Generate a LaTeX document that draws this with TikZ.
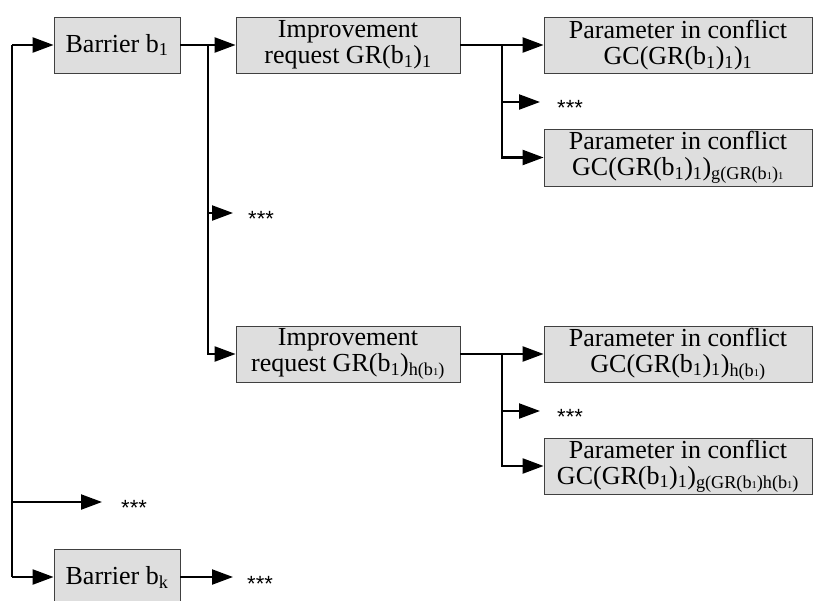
\documentclass[tikz,border=0pt]{standalone}
\usepackage{fontspec}
\setmainfont{Liberation Serif}
\newfontfamily\starfont{Liberation Sans}
\usetikzlibrary{arrows.meta,calc}
\newcommand{\tn}[1]{{\fontsize{10.5}{10.5}\selectfont #1}}
\tikzset{
  box/.style={draw=black!75, line width=0.8pt, fill=black!13, inner sep=0pt,
    align=center, font=\fontsize{26}{26}\selectfont},
  bbox/.style={box, minimum width=126pt, minimum height=56pt},
  gbox/.style={box, minimum width=224pt, minimum height=56pt},
  pbox/.style={box, minimum width=268pt, minimum height=56pt},
  conn/.style={line width=2.2pt, black},
  arr/.style={conn, -{Triangle[length=21pt,width=15pt]}},
  stars/.style={anchor=base west, inner sep=0pt, font=\starfont\fontsize{22}{22}\selectfont},
}
\begin{document}
\begin{tikzpicture}[x=1pt,y=-1pt]
\useasboundingbox (0,0) rectangle (814,600);
% boxes
\node[bbox] (b1) at (117,45) {Barrier b\textsubscript{1}};
\node[gbox] (gr1) at (348,45) {Improvement\\request GR(b\textsubscript{1})\textsubscript{1}};
\node[pbox] (gc11) at (678,45) {Parameter in conflict\\GC(GR(b\textsubscript{1})\textsubscript{1})\textsubscript{1}};
\node[pbox, minimum height=57pt] (gc1g) at (678,157.5) {Parameter in conflict\\GC(GR(b\textsubscript{1})\textsubscript{1})\textsubscript{g(GR(b\tn{1})\tn{1}}};
\node[gbox] (grh) at (348,354) {Improvement\\request GR(b\textsubscript{1})\textsubscript{h(b\tn{1})}};
\node[pbox] (gch1) at (678,354) {Parameter in conflict\\GC(GR(b\textsubscript{1})\textsubscript{1})\textsubscript{h(b\tn{1})}};
\node[pbox] (gchg) at (678,466) {Parameter in conflict\\GC(GR(b\textsubscript{1})\textsubscript{1})\textsubscript{g(GR(b\tn{1})h(b\tn{1})}};
\node[bbox] (bk) at (117,577) {Barrier b\textsubscript{k}};
% star labels
\node[stars] (s1) at (557,115) {***};
\node[stars] (s2) at (248,226) {***};
\node[stars] (s3) at (557,424) {***};
\node[stars] (s4) at (121,515) {***};
\node[stars] (s5) at (247,591) {***};
% helper coordinates
\coordinate (lt) at (12,45);
\coordinate (lb) at (12,577);
\coordinate (e1) at (540,102);
\coordinate (e2) at (233,213);
\coordinate (e3) at (540,411);
\coordinate (e4) at (102,502);
\coordinate (e5) at (233,577);
\coordinate (m1) at ($(b1.east)!.5!(gr1.west)$);
\coordinate (m2) at ($(gr1.east)!.5!(gc11.west)$);
\coordinate (m3) at ($(grh.east)!.5!(gch1.west)$);
% left trunk
\draw[conn] (lt) -- (lb);
\draw[arr] (lt) -- (b1);
\draw[arr] (lt |- e4) -- (e4);
\draw[arr] (lb) -- (bk);
\draw[arr] (bk) -- (e5);
% barrier b1 branches
\draw[arr] (b1) -- (gr1);
\draw[arr] (m1) |- (grh);
\draw[arr] (m1 |- e2) -- (e2);
% improvement 1 branches
\draw[arr] (gr1) -- (gc11);
\draw[arr] (m2) |- (gc1g);
\draw[arr] (m2 |- e1) -- (e1);
% improvement h branches
\draw[arr] (grh) -- (gch1);
\draw[arr] (m3) |- (gchg);
\draw[arr] (m3 |- e3) -- (e3);
\end{tikzpicture}
\end{document}
